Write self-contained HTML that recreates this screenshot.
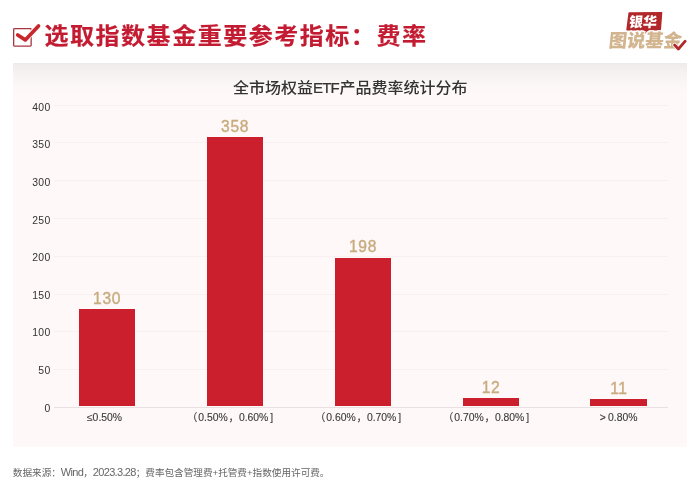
<!DOCTYPE html>
<html lang="zh-CN">
<head>
<meta charset="utf-8">
<title>选取指数基金重要参考指标：费率</title>
<style>
*{margin:0;padding:0;box-sizing:border-box}
html,body{width:700px;height:486px;overflow:hidden;background:#fff}
body{position:relative;font-family:"Liberation Sans","Noto Sans CJK SC",sans-serif;color:#333}
.abs{position:absolute;white-space:nowrap;line-height:1}
#check{position:absolute;left:10px;top:20px;width:34px;height:32px}
#title{left:44.5px;top:22.9px;font-size:24px;letter-spacing:1.53px;font-weight:700;color:#c31b31;-webkit-text-stroke:0.2px #c31b31;transform:scaleY(0.945);transform-origin:50% 50%;line-height:26px;font-family:"Liberation Sans","Noto Sans CJK SC",sans-serif}
#logo{position:absolute;left:600px;top:6px;width:94px;height:50px}
#panel{position:absolute;left:13px;top:63px;width:674px;height:384px;background:linear-gradient(to bottom,#efebeb 0px,#f5f1f1 9px,#fbf6f6 20px,#fef8f8 30px,#fef8f8 100%)}
#ctitle .lt{font-size:15px;letter-spacing:-0.85px;-webkit-text-stroke:0.25px #333;margin-right:0.6px}
#ctitle{left:0.3px;width:700px;text-align:center;top:80px;font-size:16px;color:#333;font-weight:500;line-height:16px;transform:scaleY(0.95);font-family:"Liberation Sans","Noto Sans CJK SC",sans-serif}
.grid{position:absolute;left:54px;width:614px;height:1px;background:#f6f0f0}
.axis{position:absolute;left:54px;width:614px;height:1px;background:#e7e1e1;top:406.9px}
.yl{width:30px;left:20.5px;text-align:right;font-size:10.4px;letter-spacing:0.3px;color:#333;line-height:12px;margin-top:0.25px}
.bar{position:absolute;background:#cc1f2e;width:56.4px}
.val{width:80px;text-align:center;font-size:15.6px;color:#c8ac7f;font-weight:400;-webkit-text-stroke:0.4px #c8ac7f;letter-spacing:0.7px;text-indent:0.7px;line-height:16px}
.xl{width:128px;text-align:center;font-size:10.4px;color:#3a3a3a;-webkit-text-stroke:0.12px #3a3a3a;line-height:12px}
.xl .p{margin-right:0.9px}
.xl .c{margin-left:0.8px}
.xl .b{margin-left:1.8px}
#foot{left:12.8px;top:466.8px;font-size:9.62px;color:#666;line-height:11px}
#foot .lt{font-size:11px;letter-spacing:-0.68px;line-height:11px}
</style>
</head>
<body>
<div id="panel"></div>

<svg id="check" viewBox="0 0 34 32">
  <rect x="3.65" y="8.65" width="17.5" height="17.4" rx="0.8" fill="#fff" stroke="#a9363f" stroke-width="1.3"/>
  <path d="M7.7 15 L15.3 19.9 L28.5 5.9" fill="none" stroke="#fff" stroke-width="5.4" stroke-linecap="round" stroke-linejoin="round"/>
  <path d="M7.7 15 L15.3 19.9 L28.5 5.9" fill="none" stroke="#c8282c" stroke-width="3.7" stroke-linecap="round" stroke-linejoin="round"/>
</svg>
<div id="title" class="abs">选取指数基金重要参考指标：费率</div>

<svg id="logo" viewBox="0 0 94 50">
  <path d="M28.4 7 Q28.5 6.3 29.3 6.3 L61.6 6.1 Q62.4 6.1 62.3 6.9 L61 23.6 Q60.9 24.4 60.2 24.4 L48.4 24.5 L44.4 28.2 L44.2 24.5 L27 24.6 Q26.2 24.6 26.3 23.8 Z" fill="#b2282a"/>
  <text x="44.7" y="20.9" text-anchor="middle" font-family="'Liberation Sans','Noto Sans CJK SC',sans-serif" font-weight="900" font-size="14" fill="#fff" transform="skewX(-6)" >银华</text>
  <text x="49.1" y="40.9" text-anchor="middle" font-family="'Liberation Sans','Noto Sans CJK SC',sans-serif" font-weight="900" font-size="18.3" fill="#d2b48e" stroke="#fff" stroke-width="2.2" paint-order="stroke" transform="skewX(-6)">图说基金</text>
  <path d="M74.6 39 L78.4 43 L85.2 35.2" fill="none" stroke="#fff" stroke-width="4.4" stroke-linecap="round" stroke-linejoin="round"/>
  <path d="M74.6 39 L78.4 43 L85.2 35.2" fill="none" stroke="#b2282a" stroke-width="2.8" stroke-linecap="round" stroke-linejoin="round"/>
</svg>

<div id="ctitle" class="abs">全市场权益<span class="lt">ETF</span>产品费率统计分布</div>

<div class="grid" style="top:104.6px"></div>
<div class="grid" style="top:142.4px"></div>
<div class="grid" style="top:180.2px"></div>
<div class="grid" style="top:217.9px"></div>
<div class="grid" style="top:255.7px"></div>
<div class="grid" style="top:293.5px"></div>
<div class="grid" style="top:331.3px"></div>
<div class="grid" style="top:369.1px"></div>
<div class="axis"></div>

<div class="abs yl" style="top:101.4px">400</div>
<div class="abs yl" style="top:139px">350</div>
<div class="abs yl" style="top:176.7px">300</div>
<div class="abs yl" style="top:214.3px">250</div>
<div class="abs yl" style="top:252px">200</div>
<div class="abs yl" style="top:289.6px">150</div>
<div class="abs yl" style="top:327.2px">100</div>
<div class="abs yl" style="top:364.9px">50</div>
<div class="abs yl" style="top:402.5px">0</div>

<div class="bar" style="left:78.6px;top:309px;height:97.3px"></div>
<div class="bar" style="left:206.6px;top:137.3px;height:269px"></div>
<div class="bar" style="left:334.5px;top:257.6px;height:148.7px"></div>
<div class="bar" style="left:462.5px;top:398px;height:8.3px"></div>
<div class="bar" style="left:590.4px;top:399px;height:7.3px"></div>

<div class="abs val" style="left:66.8px;top:291px">130</div>
<div class="abs val" style="left:194.8px;top:119.2px">358</div>
<div class="abs val" style="left:322.7px;top:239.4px">198</div>
<div class="abs val" style="left:450.7px;top:379.8px">12</div>
<div class="abs val" style="left:578.6px;top:380.6px">11</div>

<div class="abs xl" style="left:40.5px;top:412.1px">≤0.50%</div>
<div class="abs xl" style="left:166px;top:412.1px"><span class="p">（</span>0.50%<span class="c">，</span>0.60%<span class="b">]</span></div>
<div class="abs xl" style="left:294px;top:412.1px"><span class="p">（</span>0.60%<span class="c">，</span>0.70%<span class="b">]</span></div>
<div class="abs xl" style="left:422px;top:412.1px"><span class="p">（</span>0.70%<span class="c">，</span>0.80%<span class="b">]</span></div>
<div class="abs xl" style="left:554.6px;top:412.1px">&gt;<span style="margin-left:2.2px">0.80%</span></div>

<div id="foot" class="abs">数据来源：<span class="lt">Wind</span>，<span class="lt">2023.3.28</span>；费率包含管理费+托管费+指数使用许可费。</div>
</body>
</html>
